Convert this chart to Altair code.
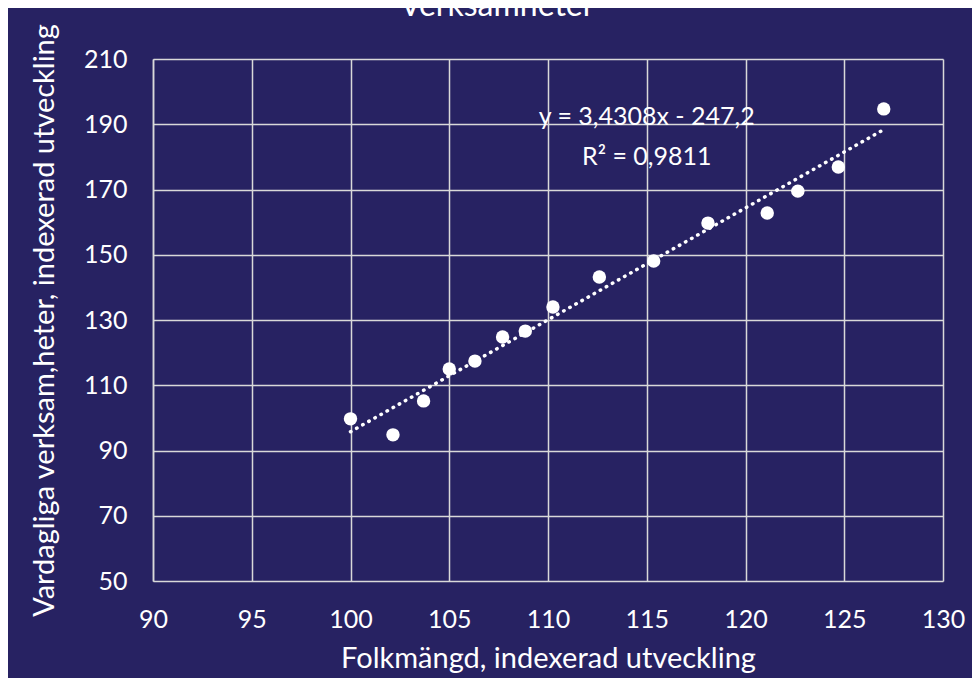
import altair as alt
import pandas as pd

# Data
folkmangd = [100.0, 102.15, 103.7, 105.0, 106.3, 107.7, 108.85, 110.25, 112.6, 115.35, 118.1, 121.1, 122.65, 124.7, 127.0]
verksamheter = [99.7, 94.8, 105.2, 115.0, 117.4, 124.8, 126.6, 134.0, 143.2, 148.1, 159.7, 162.8, 169.5, 176.9, 194.7]

eq_lines = ["y = 3,4308x - 247,2", "R² = 0,9811"]
eq_x = [115.0, 115.0]
eq_y = [192.2, 180.0]

x_ticks = [90, 95, 100, 105, 110, 115, 120, 125, 130]
y_ticks = [50, 70, 90, 110, 130, 150, 170, 190, 210]

BG = "#272262"
FONT = "Lato"
GRID = "#d9d9d9"

df = pd.DataFrame({"x": folkmangd, "y": verksamheter})
eq = pd.DataFrame({"t": eq_lines, "x": eq_x, "y": eq_y})

xscale = alt.Scale(domain=[90, 130], nice=False, zero=False)
yscale = alt.Scale(domain=[50, 210], nice=False, zero=False)

xaxis = alt.Axis(
    values=x_ticks, grid=True, gridColor=GRID, gridWidth=1.5,
    domain=False, ticks=False, labelColor="white", labelFont=FONT,
    labelFontSize=25, labelPadding=26, labelFlush=False,
    title="Folkmängd, indexerad utveckling", titleColor="white",
    titleFont=FONT, titleFontSize=29, titleFontWeight="normal", titlePadding=12,
)
yaxis = alt.Axis(
    values=y_ticks, grid=True, gridColor=GRID, gridWidth=1.5,
    domain=True, domainColor=GRID, domainWidth=1.5, ticks=False,
    labelColor="white", labelFont=FONT, labelFontSize=25, labelPadding=26,
    labelFlush=False,
    title="Vardagliga verksam,heter, indexerad utveckling", titleColor="white",
    titleFont=FONT, titleFontSize=29, titleFontWeight="normal", titlePadding=24,
)

base = alt.Chart(df)

points = base.mark_circle(color="white", opacity=1, size=180).encode(
    x=alt.X("x:Q", scale=xscale, axis=xaxis),
    y=alt.Y("y:Q", scale=yscale, axis=yaxis),
)

trend = base.transform_regression("x", "y", method="linear").mark_line(
    color="white", strokeWidth=3.5, strokeDash=[0.5, 6.5], strokeCap="round"
).encode(
    x=alt.X("x:Q", scale=xscale),
    y=alt.Y("y:Q", scale=yscale),
)

eq_text = alt.Chart(eq).mark_text(
    color="white", font=FONT, fontSize=25, baseline="middle", align="center"
).encode(
    x=alt.X("x:Q", scale=xscale),
    y=alt.Y("y:Q", scale=yscale),
    text="t:N",
)

chart = alt.layer(points, trend, eq_text).properties(
    width=790,
    height=522,
    background=BG,
    padding={"left": 145, "top": 51, "right": 29, "bottom": 97},
    autosize=alt.AutoSizeParams(type="none"),
    title=alt.TitleParams(
        "Verksamheter", color="white", font=FONT, fontSize=32,
        fontWeight="normal", anchor="middle", frame="group", dx=-51, offset=10, dy=10,
    ),
).configure_view(stroke=None)

chart.save("out.html", embed_options={"renderer": "svg", "actions": False})
